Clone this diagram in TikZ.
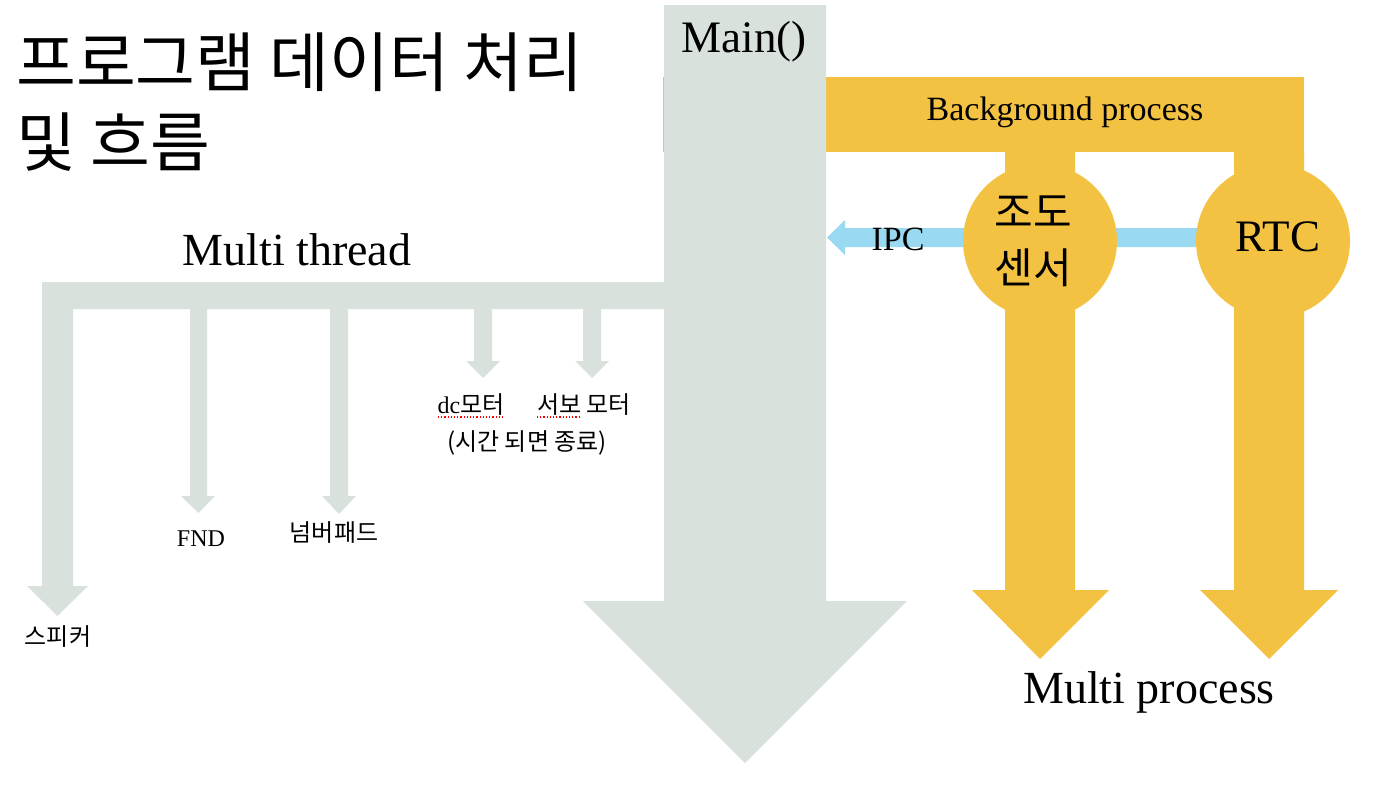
\documentclass[tikz,border=0pt]{standalone}
\usepackage{fontspec}
\setmainfont{Liberation Serif}
\newfontfamily\kr{Noto Sans CJK KR}
\definecolor{gbar}{HTML}{D9E1DD}
\definecolor{ybar}{HTML}{F4C242}
\definecolor{bl}{HTML}{99D9F2}
\begin{document}
\begin{tikzpicture}[x=1pt,y=-1pt,
  lbl/.style={inner sep=0pt, text=black},
  gshape/.style={fill=gbar, draw=none},
  yshape/.style={fill=ybar, draw=none},
  squig/.style={draw=red, dotted, line width=1.2pt}]
\useasboundingbox (0,0) rectangle (1378,790);
% yellow background bar
\fill[yshape] (663,77) rectangle (1304,152);
% main column
\fill[gshape] (664,5) -- (826,5) -- (826,601) -- (907,601) -- (745,763) -- (583,601) -- (664,601) -- cycle;
% multi thread bar with left arrow
\fill[gshape] (42,282) -- (664,282) -- (664,309) -- (73,309) -- (73,586) -- (88,586) -- (57.5,616) -- (27,586) -- (42,586) -- cycle;
% small arrows
\fill[gshape] (190,309) -- (207,309) -- (207,496) -- (215,496) -- (198.5,513) -- (181,496) -- (190,496) -- cycle;
\fill[gshape] (330,309) -- (348,309) -- (348,496) -- (356,496) -- (339,514) -- (322,496) -- (330,496) -- cycle;
\fill[gshape] (474,309) -- (492,309) -- (492,361) -- (500,361) -- (483,378) -- (466,361) -- (474,361) -- cycle;
\fill[gshape] (583,309) -- (601,309) -- (601,361) -- (609,361) -- (592,378) -- (575,361) -- (583,361) -- cycle;
% yellow stems with arrows
\fill[yshape] (1005,152) -- (1075,152) -- (1075,590) -- (1109,590) -- (1040,659) -- (972,590) -- (1005,590) -- cycle;
\fill[yshape] (1234,152) -- (1304,152) -- (1304,590) -- (1338,590) -- (1269,659) -- (1200,590) -- (1234,590) -- cycle;
% IPC arrow
\fill[bl] (827,237.5) -- (845,220) -- (845,228) -- (1200,228) -- (1200,247) -- (845,247) -- (845,255) -- cycle;
% circles
\node[circle, fill=ybar, minimum size=154pt, inner sep=0pt] (sensor) at (1040,241) {};
\node[circle, fill=ybar, minimum size=154pt, inner sep=0pt] (rtc) at (1273,241) {};
% texts
\node[lbl, anchor=west] (t1) at (16,62) {\kr\fontsize{65}{70}\selectfont 프로그램 데이터 처리};
\node[lbl, anchor=west] (t2) at (16,142) {\kr\fontsize{65}{70}\selectfont 및 흐름};
\node[lbl, anchor=base] (main) at (744,52) {\fontsize{45}{50}\selectfont Main()};
\node[lbl, anchor=base] (mt) at (297,265) {\fontsize{46}{50}\selectfont Multi thread};
\node[lbl, anchor=base] (bg) at (1065,120) {\fontsize{34}{38}\selectfont Background process};
\node[lbl, anchor=base] (ipc) at (898,250) {\fontsize{34}{38}\selectfont IPC};
\node[lbl, anchor=base] (rtct) at (1278,251) {\fontsize{45}{48}\selectfont RTC};
\node[lbl, anchor=base] (mp) at (1149,703) {\fontsize{46}{50}\selectfont Multi process};
\node[lbl] (s1) at (1033,212) {\kr\fontsize{42}{46}\selectfont 조도};
\node[lbl] (s2) at (1033,268) {\kr\fontsize{42}{46}\selectfont 센서};
\node[lbl, anchor=base] (fnd) at (201,546) {\fontsize{24}{28}\selectfont FND};
\node[lbl] (np) at (334,533) {\kr\fontsize{24}{28}\selectfont 넘버패드};
\node[lbl] (spk) at (58,637) {\kr\fontsize{24}{28}\selectfont 스피커};
\node[lbl, anchor=base] (dc) at (471,413) {\fontsize{24}{28}\selectfont dc{\kr\fontsize{24}{28}\selectfont 모터}};
\node[lbl, anchor=base] (servo) at (584,413) {\kr\fontsize{24}{28}\selectfont 서보 모터};
\node[lbl] (note) at (527,443) {\kr\fontsize{24}{28}\selectfont (시간 되면 종료)};
\coordinate (u1a) at (438,417); \coordinate (u1b) at (505,417);
\coordinate (u2a) at (537,417); \coordinate (u2b) at (580,417);
\draw[squig] (u1a) -- (u1b);
\draw[squig] (u2a) -- (u2b);
\end{tikzpicture}
\end{document}
